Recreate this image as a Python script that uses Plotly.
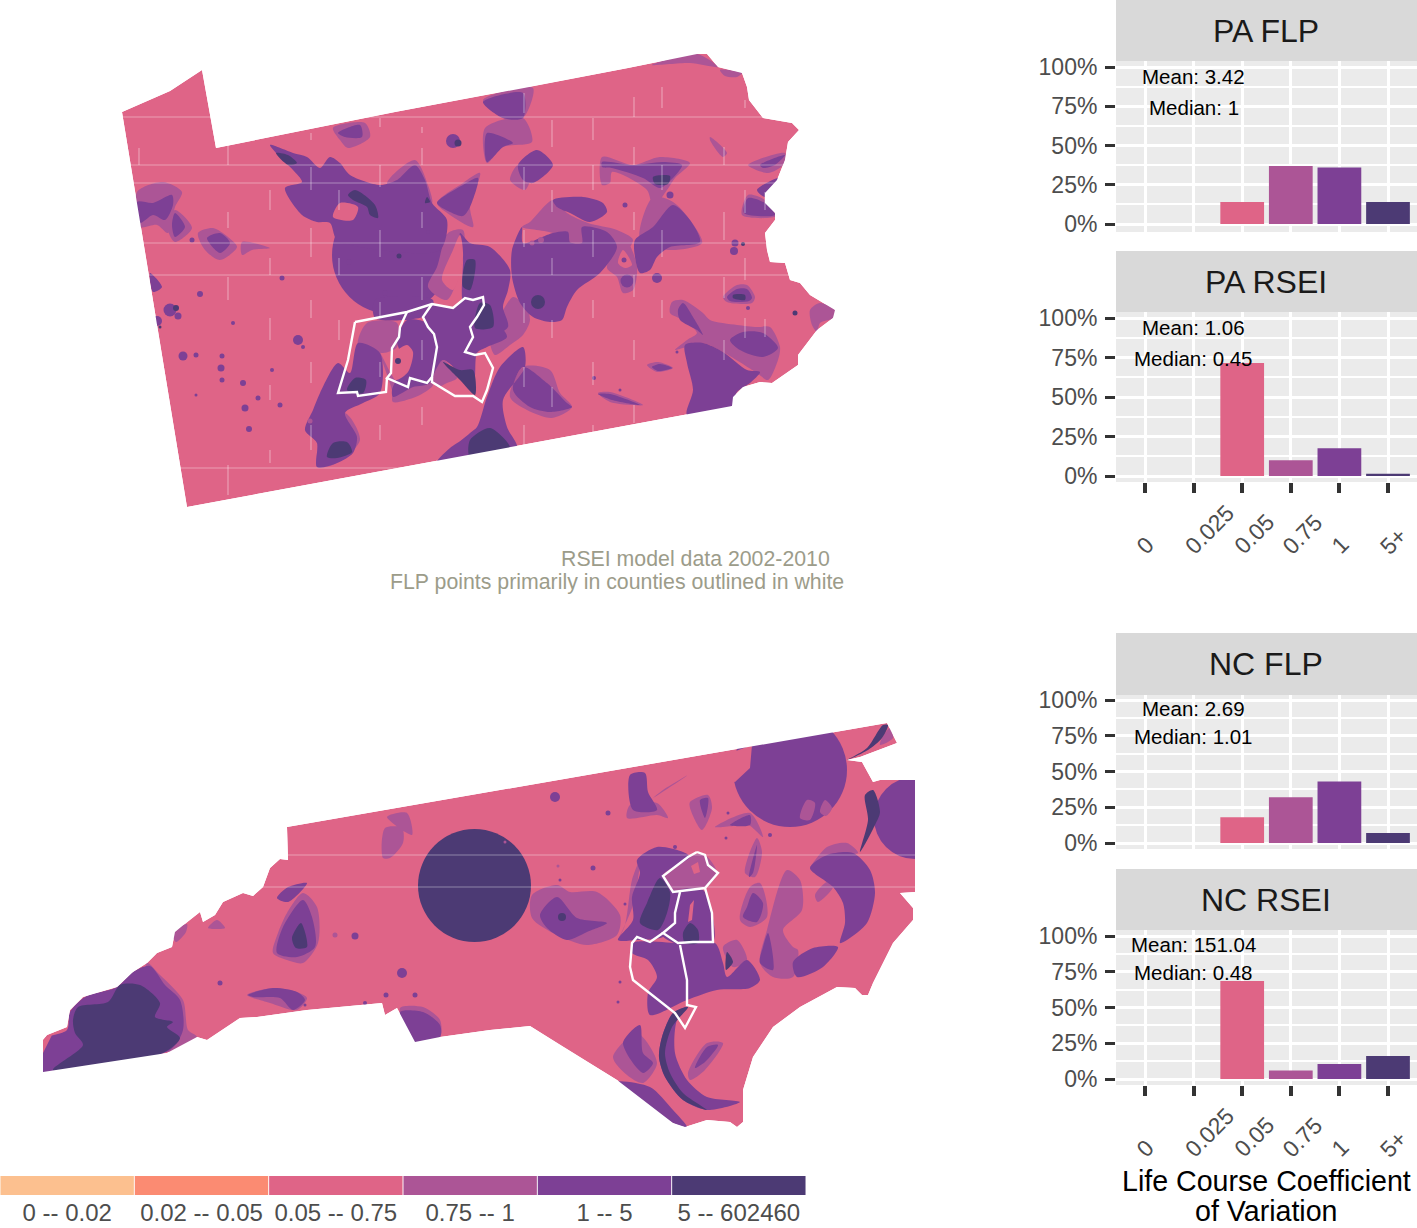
import plotly.graph_objects as go

W, H = 1417, 1228
PINK, MID, HIGH, DARK = "#DF6487", "#AC5596", "#7D4095", "#4C3A74"
FONT = "Liberation Sans"

# ---------- chart data ----------
BIN_LABELS = ["0", "0.025", "0.05", "0.75", "1", "5+"]
BIN_COLORS = ["#FCC08F", "#FB8B72", PINK, MID, HIGH, DARK]
PA_FLP = [0, 0, 14, 37, 36, 14]
PA_RSEI = [0, 0, 71.5, 10, 17.5, 1.5]
NC_FLP = [0, 0, 18, 32, 43, 7]
NC_RSEI = [0, 0, 68.5, 6, 10.5, 16]
LEGEND_LABELS = ["0 -- 0.02", "0.02 -- 0.05", "0.05 -- 0.75", "0.75 -- 1", "1 -- 5", "5 -- 602460"]
PCT_VALUES = [0, 25, 50, 75, 100]
PCT_LABELS = ["0%", "25%", "50%", "75%", "100%"]

# ---------- Pennsylvania map regions ----------
PA_STATE = [(122,112),(170,91),(202,70),(216,148),(395,112),(524,88),(628,68),(697,54),(707,54),(718,67),(742,73),(747,87),(749,100),(763,118),(792,123),(799,130),(788,142),(785,160),(777,180),(765,193),(765,203),(775,213),(775,220),(765,233),(767,250),(770,262),(785,263),(790,280),(800,283),(810,295),(835,310),(833,318),(817,330),(798,355),(798,365),(772,383),(760,382),(743,387),(733,397),(732,406),(187,507)]
PA_DISCS = [(391,255,4,118)]
PA_MID = [
 [(387,183),(415,160),(428,185),(432,203),(410,190),(395,195)],
 [(448,233),(463,230),(463,257),(447,300),(428,287),(437,267)],
 [(437,203),(463,183),(480,173),(470,207),(473,227),(450,215)],
 [(485,128),(523,118),(532,142),(503,147),(487,163)],
 [(483,100),(533,88),(523,118),(503,118)],
 [(510,180),(518,165),(530,178),(525,190)],
 [(553,200),(567,213),(588,223),(617,230),(633,240),(613,263),(553,233),(522,227),(530,222)],
 [(490,337),(508,327),(523,300),(530,320),(523,335),(510,345),(495,355)],
 [(493,337),(513,297),(523,305),(523,327),(500,345)],
 [(607,268),(617,247),(627,242),(637,267),(633,290),(623,293),(617,277)],
 [(602,157),(633,165),(660,157),(690,163),(675,178),(667,190),(653,207),(647,190),(612,172),(610,183),(602,185)],
 [(653,197),(673,202),(690,220),(702,243),(670,250),(640,240)],
 [(748,165),(785,153),(783,165),(768,173)],
 [(652,65),(697,54),(718,67),(690,63)],
 [(720,70),(742,73),(737,77),(725,76)],
 [(742,215),(748,195),(765,200),(776,216)],
 [(672,302),(683,300),(703,313),(710,320),(737,325),(757,327),(770,327),(780,347),(778,360),(768,380),(757,373),(723,352),(703,343),(683,348),(675,350),(687,340),(697,333),(683,320),(670,313)],
 [(723,297),(737,285),(747,285),(755,297),(752,303),(727,302)],
 [(810,310),(820,303),(835,310),(833,318),(820,323),(817,332),(812,325)],
 [(523,367),(550,370),(560,393),(572,407),(552,418),(527,410),(510,397)],
 [(598,393),(610,392),(643,405),(610,402)],
 [(647,365),(658,362),(673,368),(657,372)],
 [(710,137),(727,153),(723,157),(710,140)],
 [(137,192),(163,182),(182,192),(175,207),(168,233),(157,225),(140,227)],
 [(175,210),(192,228),(175,242),(168,230)],
 [(198,233),(213,228),(228,237),(237,247),(220,260),(205,250)],
 [(242,242),(270,248),(252,250),(242,255)],
 [(333,128),(365,123),(370,137),(348,148),(340,140)],
 [(367,323),(397,323),(397,347),(383,353),(358,345)],
 [(432,377),(443,360),(457,378),(447,383),(437,387)],
 [(305,430),(317,443),(317,467),(337,463),(360,440),(345,413),(320,425)],
 [(380,353),(392,390),(393,402),(420,395),(433,385),(425,380),(400,385)],
]
PA_HIGH = [
 [(270,145),(293,153),(307,157),(320,168),(330,157),(340,163),(350,175),(380,185),(397,180),(415,165),(425,180),(432,203),(447,220),(440,250),(380,250),(337,240),(330,223),(317,222),(302,215),(285,188),(302,182),(293,170),(280,157)],
 [(375,300),(433,300),(428,315),(375,318)],
 [(460,233),(470,243),(490,247),(510,270),(508,290),(503,307),(508,327),(490,337),(470,340),(462,298),(463,257)],
 [(437,203),(463,185),(478,178),(470,207),(463,216),(450,212)],
 [(483,102),(523,93),(523,118),(503,118)],
 [(487,133),(513,143),(503,147),(487,162)],
 [(537,150),(553,165),(533,183),(523,180),(518,165)],
 [(553,200),(583,197),(603,203),(607,212),(590,222),(570,213),(557,207)],
 [(522,227),(512,250),(512,277),(520,303),(533,317),(550,322),(562,320),(567,307),(577,290),(600,273),(617,247),(607,232),(582,227),(582,243),(570,242),(568,232),(553,233),(523,243)],
 [(635,240),(653,227),(673,205),(690,220),(700,242),(670,247),(657,257),(650,270),(640,273),(635,257)],
 [(602,162),(633,165),(663,162),(682,165),(673,178),(660,188),(643,178),(612,168),(602,167)],
 [(760,165),(785,155),(775,165),(763,168)],
 [(757,190),(778,178),(765,197)],
 [(744,213),(748,198),(765,203),(775,215)],
 [(685,345),(703,343),(723,352),(747,370),(760,372),(750,383),(737,392),(732,406),(687,415),(693,390),(687,363)],
 [(683,303),(693,317),(703,335),(697,330),(680,320),(678,310)],
 [(730,340),(743,332),(763,333),(778,348),(763,357),(740,350)],
 [(727,297),(737,289),(747,289),(752,298),(749,301),(730,301)],
 [(523,347),(500,367),(487,397),(477,427),(470,433),(435,465),(470,458),(517,448),(507,427),(503,400),(525,367)],
 [(480,432),(450,448),(435,465),(470,458)],
 [(523,367),(547,383),(567,403),(572,407),(550,412),(530,407),(513,390)],
 [(598,394),(610,394),(640,405),(612,400)],
 [(652,367),(660,364),(672,368),(658,371)],
 [(137,202),(153,203),(172,195),(173,205),(165,220),(153,215),(140,223)],
 [(175,213),(185,227),(175,237),(172,225)],
 [(207,238),(220,233),(230,243),(220,253)],
 [(150,273),(162,287),(153,292)],
 [(338,133),(360,125),(362,137),(345,137)],
 [(338,363),(320,393),(313,410),(305,430),(317,443),(317,467),(337,463),(353,453),(357,437),(345,413),(363,403),(380,393),(380,353),(358,343),(350,373)],
 [(397,340),(407,320),(427,323),(437,347),(430,383),(413,387),(393,397),(392,390),(403,363)],
 [(423,317),(430,305),(453,308),(465,298),(483,297),(493,317),(507,337),(487,347),(477,353),(473,383),(443,360),(432,377),(437,347),(427,327)],
]
PA_CUT = [
 [(333,217),(340,203),(358,207),(353,220)],
 [(460,235),(463,257),(453,290),(442,280),(453,250)],
 [(623,250),(632,265),(625,268),(618,263)],
 [(396,352),(407,345),(413,352),(408,372),(396,380),(392,372)],
]
PA_DARK = [
 [(348,195),(355,190),(375,205),(378,218),(370,215),(367,207),(353,200)],
 [(427,197),(430,202),(425,203)],
 [(467,260),(475,260),(470,290),(463,287),(463,273)],
 [(480,303),(490,305),(493,327),(475,328)],
 [(443,362),(460,370),(473,370),(475,395),(460,380)],
 [(490,428),(510,448),(470,457),(470,440)],
 [(653,177),(670,176),(668,184),(655,184)],
 [(733,295),(745,295),(745,300),(733,298)],
 [(327,457),(333,443),(347,442),(352,452),(337,458)],
 [(347,390),(355,378),(366,380),(363,393)],
 [(276,153),(288,155),(297,163),(288,165)],
]
# dot centre x, centre y, colour index (3 mid, 4 high, 5 dark), diameter
PA_DOTS = [(453,141,4,14),(458,143,5,7),(538,302,5,14),(624,260,4,5),(627,281,4,13),(657,278,4,10),(170,310,4,13),(176,308,5,6),(178,316,4,7),(192,240,4,5),(298,340,4,10),(183,356,4,9),(196,355,4,5),(222,380,4,5),(243,383,4,6),(221,368,4,7),(222,356,4,5),(233,323,4,4),(157,321,4,10),(160,327,5,3),(200,294,4,6),(282,278,4,5),(303,347,4,4),(272,370,4,4),(280,405,4,5),(245,408,4,7),(249,429,4,6),(258,398,4,5),(310,421,3,5),(398,361,5,6),(385,293,4,6),(349,262,4,6),(399,256,5,5),(532,243,3,5),(625,205,4,5),(541,240,3,6),(670,195,4,7),(734,251,4,8),(735,243,4,7),(743,244,5,4),(795,313,5,5),(748,308,4,4),(594,378,4,4),(620,390,4,3),(677,352,4,3),(745,398,3,3),(196,395,4,3),(428,232,4,4)]
PA_HLINES = [117, 165, 183, 243, 275, 468]
PA_VDASH = [(139,148,165),(228,145,165),(228,212,228),(228,277,300),(228,465,495),(270,190,210),(270,258,275),(270,318,340),(270,385,400),(270,450,463),(311,133,140),(311,167,190),(311,228,257),(311,300,318),(311,362,383),(311,425,450),(339,190,210),(339,258,275),(339,320,340),(380,118,127),(380,165,187),(380,230,257),(380,302,317),(380,362,377),(380,425,440),(422,127,133),(422,148,165),(422,212,228),(422,277,300),(422,340,360),(422,407,425),(524,93,113),(524,167,190),(524,230,247),(524,303,323),(524,367,387),(524,425,448),(552,120,147),(552,190,212),(552,258,275),(552,320,338),(552,387,407),(593,118,140),(593,165,190),(593,230,257),(593,300,318),(593,362,385),(593,425,433),(634,97,117),(634,147,165),(634,212,230),(634,275,297),(634,340,360),(634,405,423),(662,87,108),(662,165,190),(662,230,257),(662,300,318),(724,147,165),(724,212,240),(724,277,298),(724,340,360),(745,100,108),(745,190,213),(745,258,280),(745,318,338),(765,192,210),(765,319,337)]
PA_COUNTIES = [
 [(355,322),(407,312),(432,304),(453,308),(465,298),(473,300),(483,297),(484,305),(477,317),(470,327),(473,337),(465,352),(475,355),(485,353),(493,368),(487,390),(482,402),(473,396),(455,396),(432,382),(432,377)],
 [(407,312),(400,327),(399,337),(392,348),(391,373),(387,378),(408,387),(410,378),(427,383),(432,377),(437,347),(434,334),(428,327),(423,317),(432,304)],
 [(355,322),(348,360),(338,393),(357,392),(358,396),(386,392),(387,378)],
]

# ---------- North Carolina map regions ----------
NC_STATE = [(43,1040),(47,1035),(67,1027),(70,1010),(83,997),(117,987),(133,972),(147,963),(157,953),(172,947),(175,932),(187,922),(200,912),(203,922),(215,915),(223,902),(243,893),(253,896),(263,887),(270,868),(280,859),(288,860),(287,827),(887,723),(897,743),(860,757),(847,760),(862,762),(873,782),(880,780),(915,780),(915,892),(900,893),(913,908),(913,920),(893,943),(873,983),(868,995),(862,995),(855,988),(837,987),(800,1007),(773,1027),(753,1057),(743,1090),(743,1122),(737,1127),(730,1122),(707,1120),(685,1127),(673,1123),(617,1080),(560,1045),(530,1026),(490,1030),(440,1037),(415,1042),(397,1008),(385,1015),(382,1003),(307,1010),(257,1017),(240,1018),(207,1040),(197,1037),(167,1053),(43,1072)]
NC_DISCS = [(790,770,4,114),(915,818,4,82)]
NC_MID = [
 [(147,963),(160,975),(183,1000),(188,1030),(197,1037),(170,1052),(150,1040)],
 [(172,932),(187,924),(186,932),(176,942)],
 [(208,928),(217,920),(225,928)],
 [(273,953),(278,933),(287,913),(303,893),(317,907),(318,943),(303,963),(287,960)],
 [(247,995),(273,988),(297,992),(307,998),(297,1010),(270,1003)],
 [(385,828),(402,828),(403,843),(390,858),(383,858)],
 [(387,817),(407,813),(412,835)],
 [(400,1008),(423,1007),(440,1020),(440,1037),(415,1042)],
 [(532,895),(557,885),(570,892),(597,892),(620,915),(617,935),(587,945),(557,935),(532,918)],
 [(627,818),(630,805),(657,803),(668,818),(657,815)],
 [(653,798),(688,775),(663,790)],
 [(690,802),(708,795),(712,808),(702,830),(690,808)],
 [(715,827),(750,813),(763,837),(747,824),(733,826)],
 [(745,873),(757,838),(762,852),(755,877)],
 [(740,920),(750,887),(760,883),(767,917),(750,927)],
 [(767,930),(787,870),(800,880),(802,910),(783,930),(793,947),(798,950),(793,977),(773,977),(760,963)],
 [(723,947),(737,940),(747,960),(733,967)],
 [(815,895),(827,882),(833,887),(818,902)],
 [(810,868),(827,847),(847,843),(858,853),(827,855)],
 [(613,1057),(637,1033),(657,1063),(643,1083),(627,1075)],
 [(688,1073),(707,1043),(723,1043),(705,1070),(690,1080)],
 [(880,745),(882,738),(890,728),(893,738)],
 [(663,875),(693,855),(705,855),(717,873),(705,888),(673,892)],
 [(618,940),(633,905),(640,860),(632,880),(625,925)],
 [(800,818),(807,800),(815,803),(810,820)],
 [(820,812),(825,800),(832,808),(826,816)],
]
NC_HIGH = [
 [(43,1040),(67,1030),(70,1012),(85,997),(117,987),(133,972),(150,966),(165,985),(180,1000),(183,1030),(170,1050),(43,1072)],
 [(277,953),(283,927),(303,900),(312,917),(315,947),(297,957)],
 [(277,898),(288,887),(307,883),(288,902)],
 [(248,995),(273,988),(297,992),(305,1000),(293,1010),(280,998),(253,997)],
 [(400,1012),(423,1012),(440,1025),(440,1037),(415,1042)],
 [(540,915),(557,897),(577,918),(607,923),(587,932),(567,940),(547,928)],
 [(630,775),(645,773),(648,792),(657,810),(633,810)],
 [(700,800),(708,798),(705,818)],
 [(730,825),(750,815),(750,825)],
 [(749,877),(757,845),(753,873)],
 [(747,907),(753,893),(763,903),(757,922),(743,917)],
 [(763,947),(768,933),(773,970),(760,963)],
 [(810,868),(827,855),(853,853),(870,870),(875,893),(867,923),(847,940),(840,943),(845,923),(843,903),(833,887)],
 [(793,962),(813,948),(838,947),(823,967),(797,977)],
 [(637,860),(657,847),(683,852),(690,857),(663,875),(673,890),(678,892),(675,923),(663,937),(637,940),(618,940),(633,920),(632,897),(640,873)],
 [(675,892),(703,890),(712,913),(713,942),(680,945),(662,935),(675,923)],
 [(633,943),(678,943),(715,943),(723,963),(727,977),(747,960),(760,980),(750,988),(717,990),(687,1000),(650,1015),(648,993),(657,977),(648,960),(632,953)],
 [(677,1020),(675,1053),(687,1080),(707,1097),(740,1102),(707,1110),(683,1100),(665,1077),(659,1057),(662,1037),(673,1013),(688,1007)],
 [(640,1025),(643,1053),(653,1063),(643,1073),(623,1043)],
 [(617,1082),(650,1087),(673,1110),(687,1127),(673,1123)],
 [(695,1068),(707,1047),(718,1045),(705,1062)],
]
NC_CUT = [
 [(43,1038),(52,1035),(43,1053)],
 [(725,755),(752,745),(750,768),(735,782),(725,780)],
 [(691,866),(698,862),(700,872),(694,874)],
 [(690,905),(694,900),(692,920),(688,922)],
]
NC_DARK = [
 [(73,1020),(78,1007),(108,1002),(120,985),(140,985),(160,1003),(155,1017),(173,1022),(167,1027),(180,1038),(163,1053),(53,1070),(83,1045),(75,1033)],
 [(292,938),(301,923),(307,947),(296,948)],
 [(660,878),(670,892),(667,913),(658,930),(640,923),(647,903)],
 [(683,933),(690,923),(698,930),(698,943),(685,943)],
 [(688,1007),(673,1013),(662,1037),(659,1057),(665,1077),(683,1100),(707,1110),(683,1093),(670,1073),(665,1053),(672,1027)],
 [(865,795),(873,790),(880,812),(875,825),(860,852),(868,820)],
 [(847,760),(867,748),(883,725),(888,725),(882,738),(868,750)],
 [(727,952),(733,962),(726,970)],
]
NC_TOP_DISCS = [(474.5,885.5,5,113)]
NC_DOTS = [(562,917,5,8),(555,797,4,10),(402,973,4,10),(220,983,4,5),(355,936,4,7),(335,935,3,5),(386,995,4,5),(415,995,4,5),(365,1003,4,4),(305,1005,4,3),(608,813,4,5),(593,868,4,5),(675,847,4,4),(726,838,4,3),(728,813,4,3),(770,835,4,4),(625,904,4,3),(560,880,4,3),(620,982,4,3),(618,1002,4,3),(505,842,3,3),(558,866,3,3)]
NC_HLINES = [855, 887]
NC_COUNTIES = [
 [(697,852),(705,855),(708,865),(718,873),(705,888),(673,892),(663,876),(688,857),(697,852)],
 [(680,892),(675,913),(675,923),(663,933),(678,943),(693,942),(713,942),(712,913),(705,888)],
 [(663,933),(650,942),(637,937),(632,943),(630,967),(633,980),(675,1013),(685,1028),(696,1007),(687,1005),(687,980),(680,945)],
]
CAPTIONS = ["RSEI model data 2002-2010", "FLP points primarily in counties outlined in white"]
STATS = {"PA FLP": ("3.42", "1"), "PA RSEI": ("1.06", "0.45"), "NC FLP": ("2.69", "1.01"), "NC RSEI": ("151.04", "0.48")}

fig = go.Figure()

def flat(polys):
    xs, ys = [], []
    for p in polys:
        xs += [q[0] for q in p] + [p[0][0], None]
        ys += [q[1] for q in p] + [p[0][1], None]
    return xs, ys

def area(p):
    return sum(p[i][0] * p[(i + 1) % len(p)][1] - p[(i + 1) % len(p)][0] * p[i][1] for i in range(len(p)))

def fill(polys, color, smooth=False):
    xs, ys = flat(polys)
    line = dict(width=0, color=color)
    if smooth:
        line.update(shape="spline", smoothing=0.8)
    fig.add_trace(go.Scatter(x=xs, y=ys, mode="lines", fill="toself", fillcolor=color,
                             line=line, hoverinfo="skip", showlegend=False))

def dots(items):
    fig.add_trace(go.Scatter(x=[d[0] for d in items], y=[d[1] for d in items], mode="markers",
                             marker=dict(color=[BIN_COLORS[d[2]] for d in items], size=[d[3] for d in items],
                                         opacity=1, line=dict(width=0)),
                             hoverinfo="skip", showlegend=False))

def mask(state, box):
    x0, y0, x1, y1 = box
    outer = [(x0, y0), (x1, y0), (x1, y1), (x0, y1)]
    ring = state[::-1] if area(state) * area(outer) > 0 else state
    fill([outer + [outer[0]] + [ring[0]] + ring[1:] + [ring[0]] + [outer[0]]], "#FFFFFF")

def faint(xs, ys):
    fig.add_trace(go.Scatter(x=xs, y=ys, mode="lines", line=dict(color="rgba(255,255,255,0.38)", width=1.2),
                             hoverinfo="skip", showlegend=False))

def outlines(polys):
    xs, ys = [], []
    for p in polys:
        xs += [q[0] for q in p] + [None]
        ys += [q[1] for q in p] + [None]
    fig.add_trace(go.Scatter(x=xs, y=ys, mode="lines", line=dict(color="#FFFFFF", width=2.4),
                             hoverinfo="skip", showlegend=False))

# Pennsylvania
fill([PA_STATE], PINK); dots(PA_DISCS); fill(PA_MID, MID, True); fill(PA_HIGH, HIGH, True); fill(PA_CUT, PINK, True); fill(PA_DARK, DARK, True); dots(PA_DOTS)
hx, hy = [], []
for y in PA_HLINES:
    hx += [100, 860, None]; hy += [y, y, None]
for x, a, b in PA_VDASH:
    hx += [x, x, None]; hy += [a, b, None]
faint(hx, hy)
mask(PA_STATE, (100, 40, 860, 530))
outlines(PA_COUNTIES)

# North Carolina
fill([NC_STATE], PINK); dots(NC_DISCS); fill(NC_MID, MID, True); fill(NC_HIGH, HIGH, True); fill(NC_CUT, PINK); fill(NC_DARK, DARK, True)
dots(NC_TOP_DISCS); dots(NC_DOTS)
hx, hy = [], []
for y in NC_HLINES:
    hx += [30, 1000, None]; hy += [y, y, None]
faint(hx, hy)
mask(NC_STATE, (30, 705, 1000, 1140))
outlines(NC_COUNTIES)

# ---------- bar panels ----------
shapes, annos = [], []
def page_text(x, y, text, size, color, **kw):
    annos.append(dict(x=x, y=y, xref="x", yref="y", text=text, showarrow=False, xanchor="center", yanchor="middle",
                      font=dict(family=FONT, size=size, color=color), **kw))

PANELS = [
    ("PA FLP", PA_FLP, 2, 0, 61, 232, 224, 67, False),
    ("PA RSEI", PA_RSEI, 3, 251, 312, 482, 476, 318, True),
    ("NC FLP", NC_FLP, 4, 633, 695, 849, 843, 700, False),
    ("NC RSEI", NC_RSEI, 5, 869, 930, 1085, 1079, 936, True),
]
LEFT = 1116
layout_axes = {}
for name, vals, i, strip_top, top, bottom, y0, y100, has_x in PANELS:
    k = (y0 - y100) / 100
    shapes.append(dict(type="rect", xref="x", yref="y", x0=LEFT, x1=W, y0=strip_top, y1=top, fillcolor="#D9D9D9", line_width=0, layer="below"))
    shapes.append(dict(type="rect", xref="x", yref="y", x0=LEFT, x1=W, y0=top, y1=bottom, fillcolor="#EBEBEB", line_width=0, layer="below"))
    fig.add_trace(go.Bar(x=list(range(6)), y=vals, width=0.9, marker=dict(color=BIN_COLORS, line_width=0),
                         xaxis=f"x{i}", yaxis=f"y{i}", hoverinfo="skip", showlegend=False))
    layout_axes[f"xaxis{i}"] = dict(domain=[LEFT / W, 1], anchor=f"y{i}", range=[(LEFT - 1145) / 48.6, (W - 1145) / 48.6],
                                    tickvals=list(range(6)), showticklabels=False, ticks="outside" if has_x else "",
                                    ticklen=10, tickwidth=3.5, tickcolor="#333333", showgrid=True, gridcolor="#FFFFFF",
                                    gridwidth=3, zeroline=False, showline=False, fixedrange=True)
    layout_axes[f"yaxis{i}"] = dict(domain=[1 - bottom / H, 1 - top / H], anchor=f"x{i}", range=[(y0 - bottom) / k, (y0 - top) / k],
                                    tickvals=PCT_VALUES, ticktext=PCT_LABELS, ticks="outside", ticklen=10, tickwidth=3,
                                    tickcolor="#333333", ticklabelstandoff=3,
                                    tickfont=dict(family=FONT, size=23, color="#4D4D4D"), showgrid=True, gridcolor="#FFFFFF",
                                    gridwidth=3, minor=dict(dtick=12.5, showgrid=True, gridcolor="#FFFFFF", gridwidth=2),
                                    zeroline=False, showline=False, fixedrange=True)
    page_text(1266, (strip_top + top) / 2, name, 32, "#1A1A1A")
    mean, median = STATS[name]
    for yv, txt in ((94, f"Mean: {mean}"), (74.5, f"Median: {median}")):
        annos.append(dict(x=1, y=yv, xref=f"x{i}", yref=f"y{i}", text=txt, showarrow=False, xanchor="center", yanchor="middle",
                          font=dict(family=FONT, size=20.5, color="#000000")))
    if has_x:
        for j, lab in enumerate(BIN_LABELS):
            annos.append(dict(x=j, y=bottom + 80, xref=f"x{i}", yref="y", text=lab, showarrow=False, textangle=-45,
                              xanchor="left", yanchor="bottom", xshift=-16,
                              font=dict(family=FONT, size=23, color="#4D4D4D")))

# legend strip
fig.add_trace(go.Bar(x=list(range(6)), y=[1] * 6, width=0.993, marker=dict(color=BIN_COLORS, line_width=0),
                     xaxis="x6", yaxis="y6", hoverinfo="skip", showlegend=False))
layout_axes["xaxis6"] = dict(domain=[0, 806 / W], anchor="y6", range=[-0.5, 5.5], tickvals=list(range(6)), ticktext=LEGEND_LABELS,
                             ticks="", showgrid=False, zeroline=False, showline=False, ticklabelstandoff=1,
                             tickfont=dict(family=FONT, size=24, color="#4D4D4D"), fixedrange=True)
layout_axes["yaxis6"] = dict(domain=[1 - 1195 / H, 1 - 1176 / H], anchor="x6", range=[0, 1], visible=False, fixedrange=True)

page_text(695, 559, CAPTIONS[0], 21.3, "#9C9C8A")
page_text(617, 582, CAPTIONS[1], 21.3, "#9C9C8A")
page_text(1266, 1181, "Life Course Coefficient", 28.6, "#000000")
page_text(1266, 1211, "of Variation", 28.6, "#000000")

fig.update_layout(width=W, height=H, margin=dict(l=0, r=0, t=0, b=0, pad=0, autoexpand=False), paper_bgcolor="#FFFFFF", plot_bgcolor="rgba(0,0,0,0)",
                  showlegend=False, barmode="overlay", shapes=shapes, annotations=annos,
                  xaxis=dict(domain=[0, 1], range=[0, W], visible=False, fixedrange=True),
                  yaxis=dict(domain=[0, 1], range=[H, 0], visible=False, fixedrange=True),
                  **layout_axes)
fig.write_html("out.html", config=dict(displayModeBar=False),
               post_script="document.body.style.margin='0';document.body.style.overflow='hidden';")
